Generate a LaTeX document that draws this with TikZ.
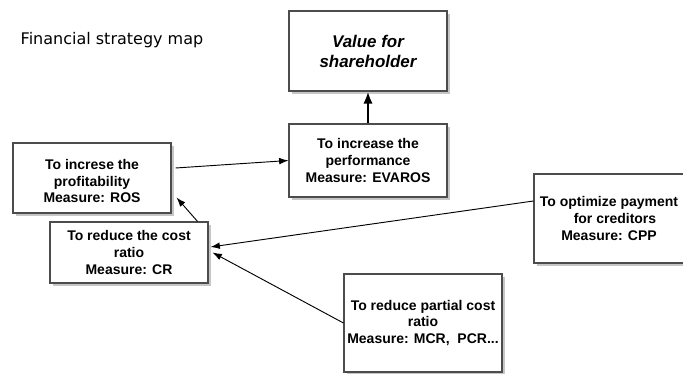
\documentclass[tikz,border=0pt]{standalone}
\usepackage{fontspec}
\setmainfont{Liberation Sans}
\newfontfamily\titlefont{DejaVu Sans}
\usepackage{tikz}
\usetikzlibrary{calc,shadows,arrows.meta}
\usepackage{xcolor}

\tikzset{
  goalbox/.style={draw=gray!60!black, line width=0.8pt, fill=white, align=center,
    minimum width=118.5pt, inner sep=2pt,
    font=\fontsize{10.5}{12.4}\selectfont\bfseries,
    drop shadow={shadow xshift=2.6pt, shadow yshift=-2.6pt, fill=gray!45, opacity=1}},
  link/.style={-{Latex[length=7pt,width=5pt]}, line width=0.7pt}
}
\newcommand{\padr}{\hspace*{9pt}}

\begin{document}
\begin{tikzpicture}[x=0.75pt,y=-0.75pt]
  \useasboundingbox (0,0) rectangle (683,374);
  \coordinate (pValue) at (368,51);
  \coordinate (pPerf) at (368,160.5);
  \coordinate (pProfit) at (92,178);
  \coordinate (pCost) at (129,252.5);
  \coordinate (pOptim) at (615,218.5);
  \coordinate (pPartial) at (423,323);
  \node (title) at (112,40) {\titlefont\fontsize{12}{14}\selectfont Financial strategy map};
  \node[goalbox, minimum height=60pt, font=\fontsize{12.7}{15}\selectfont\bfseries\itshape]
    (value) at (pValue) {Value for\\shareholder};
  \node[goalbox, minimum height=54.75pt] (perf) at (pPerf)
    {To increase the\\performance\\Measure: EVAROS};
  \node[goalbox, minimum height=52.5pt] (profit) at (pProfit)
    {\mbox{}\\To increse the\\profitability\\Measure: ROS};
  \node[goalbox, minimum height=45.75pt] (cost) at (pCost)
    {To reduce the cost\\ratio\\Measure: CR};
  \node[goalbox, minimum width=121.5pt, minimum height=66.75pt] (optim) at (pOptim)
    {To optimize payment\padr\\for creditors\padr\\Measure: CPP\padr};
  \node[goalbox, minimum height=73.5pt] (partial) at (pPartial)
    {To reduce partial cost\\ratio\\Measure: MCR,\ \ PCR...};
  \draw[link, line width=2pt, -{Latex[length=9pt,width=7pt]}] (perf.north) -- (value.south);
  \draw[link] ($(profit.east)+(4,-10)$) -- (perf.west);
  \draw[link] ($(cost.north east)+(-11,0)$) -- ($(profit.south east)+(5,-16)$);
  \draw[link] ($(optim.west)+(0,-17.5)$) -- ($(cost.east)+(2,-5.5)$);
  \draw[link] (partial.west) -- ($(cost.east)+(4,0)$);
\end{tikzpicture}
\end{document}
